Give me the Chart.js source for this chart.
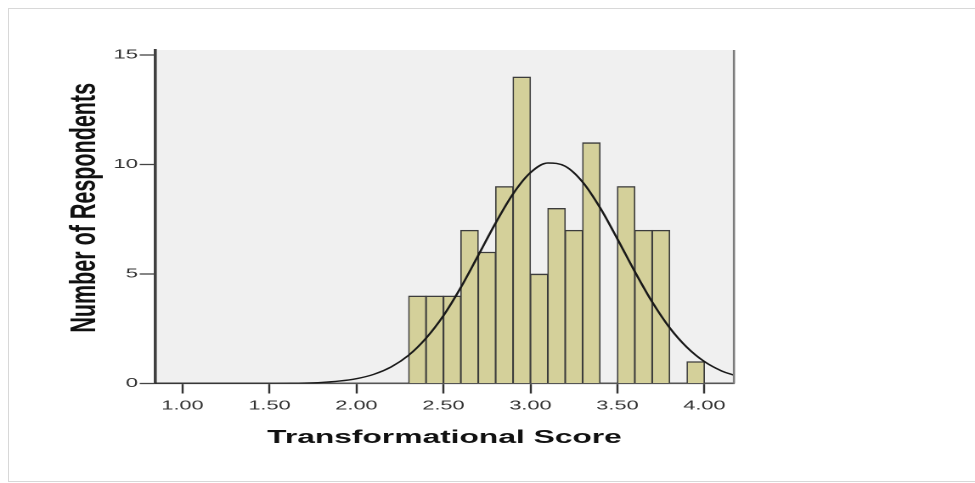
<!DOCTYPE html>
<html><head><meta charset="utf-8">
<script src="https://cdn.jsdelivr.net/npm/chart.js@4/dist/chart.umd.min.js"></script>
<style>
html,body{margin:0;padding:0;background:#fff;width:975px;height:483px;overflow:hidden;}
#frame{position:absolute;left:8px;top:8px;width:990px;height:474px;border:1.5px solid #d8d8d8;border-right:none;box-sizing:border-box;}
#c{position:absolute;left:0;top:0;}
</style></head><body>
<div id="frame"></div>
<canvas id="c" width="574" height="483" style="width:975px;height:483px;"></canvas>
<script>
// Histogram bins (bin centres, width 0.1) and counts
const binCenters = [2.35, 2.45, 2.55, 2.65, 2.75, 2.85, 2.95, 3.05, 3.15, 3.25, 3.35, 3.55, 3.65, 3.75, 3.95];
const counts     = [4,    4,    4,    7,    6,    9,    14,   5,    8,    7,    11,   9,    7,    7,    1];
// Normal curve, points
const curveX = [0.84, 1.0, 1.2, 1.4, 1.6, 1.7, 1.8, 1.9, 2.0, 2.1, 2.2, 2.3, 2.4, 2.5, 2.6, 2.7, 2.8, 2.9, 3.0, 3.1, 3.2, 3.3, 3.4, 3.5, 3.6, 3.7, 3.8, 3.9, 4.0, 4.1, 4.17];
const curveY = [0, 0, 0, 0, 0.01, 0.02, 0.05, 0.11, 0.22, 0.42, 0.76, 1.29, 2.07, 3.1, 4.39, 5.85, 7.33, 8.66, 9.63, 10.07, 9.92, 9.2, 8.03, 6.6, 5.11, 3.72, 2.55, 1.65, 1.0, 0.57, 0.38];
const xTickValues = [1.0, 1.5, 2.0, 2.5, 3.0, 3.5, 4.0];
const yTickValues = [0, 5, 10, 15];
const xTitle = 'Transformational Score';
const yTitle = 'Number of Respondents';

Chart.defaults.font.family = "'Liberation Sans', Arial, Helvetica, sans-serif";
Chart.defaults.color = '#333';

const plotBg = {
  id: 'plotBg',
  beforeDraw(chart) {
    const {ctx, chartArea: a} = chart;
    ctx.save();
    ctx.fillStyle = '#f0f0f0';
    ctx.fillRect(a.left, a.top, a.right - a.left, a.bottom - a.top);
    ctx.restore();
  },
  afterDraw(chart) {
    const {ctx, chartArea: a} = chart;
    ctx.save();
    ctx.strokeStyle = '#7c7c7c';
    ctx.lineWidth = 1.3;
    ctx.beginPath();
    ctx.moveTo(a.right, a.top);
    ctx.lineTo(a.right, a.bottom);
    ctx.stroke();
    ctx.restore();
  }
};

new Chart(document.getElementById('c'), {
  type: 'bar',
  data: {
    datasets: [
      {
        type: 'line',
        data: curveX.map((x, i) => ({x: x, y: curveY[i]})),
        borderColor: '#1a1a1a',
        borderWidth: 1.4,
        pointRadius: 0,
        cubicInterpolationMode: 'monotone',
        fill: false,
        order: 0
      },
      {
        type: 'bar',
        data: binCenters.map((x, i) => ({x: x, y: counts[i]})),
        backgroundColor: '#d4d09a',
        borderColor: '#3c3c3c',
        borderWidth: {left: 0.85, right: 0.85, top: 1.4, bottom: 0},
        borderSkipped: false,
        barPercentage: 1,
        categoryPercentage: 1,
        order: 1
      }
    ]
  },
  options: {
    responsive: false,
    devicePixelRatio: 2,
    animation: false,
    events: [],
    layout: {autoPadding: false, padding: {left: 31.25, right: 141.9, top: 50, bottom: 29.5}},
    plugins: {legend: {display: false}, tooltip: {enabled: false}},
    scales: {
      x: {
        type: 'linear',
        min: 0.842, max: 4.17,
        offset: false,
        afterFit(s) { s.height = 70; },
        afterBuildTicks(s) { s.ticks = xTickValues.map(v => ({value: v})); },
        grid: {display: true, offset: false, drawOnChartArea: false, drawTicks: true, tickLength: 10, tickWidth: 1.2, tickColor: '#333'},
        border: {display: true, color: '#555', width: 1.6},
        ticks: {padding: 5, maxRotation: 0, autoSkip: false, font: {size: 12.8}, color: '#333',
          callback: v => Number(v).toFixed(2)},
        title: {display: true, text: xTitle, font: {size: 18.7, weight: 'bold'}, color: '#111', padding: {top: 0, bottom: 4.3}}
      },
      y: {
        type: 'linear',
        min: 0, max: 15.23,
        afterFit(s) { s.width = 60; },
        afterBuildTicks(s) { s.ticks = yTickValues.map(v => ({value: v})); },
        grid: {display: true, drawOnChartArea: false, drawTicks: true, tickLength: 9, tickWidth: 1.3, tickColor: '#444'},
        border: {display: true, color: '#404040', width: 1.8},
        ticks: {padding: 1, font: {size: 13}, color: '#333'},
        title: {display: true, text: '   ' + yTitle, font: {size: 21.5, weight: 'bold'}, color: '#111', padding: {top: 5.85}}
      }
    }
  },
  plugins: [plotBg]
});
</script>
</body></html>
